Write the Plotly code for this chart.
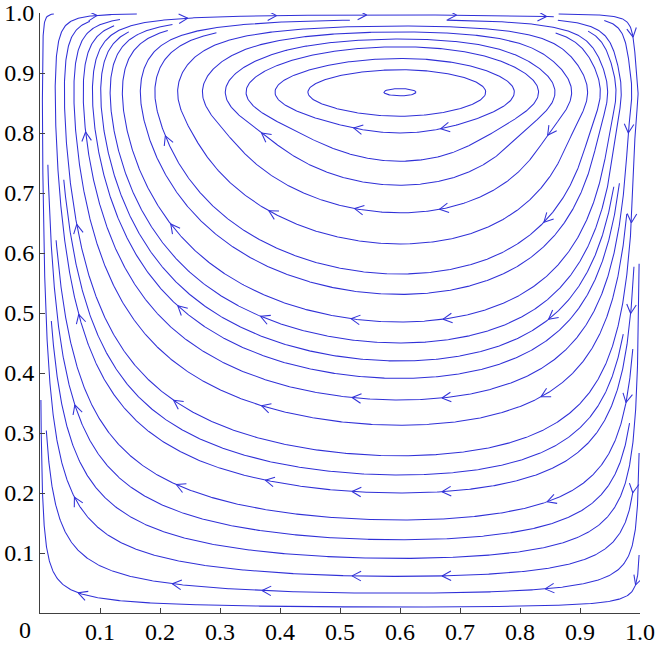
import math
import numpy as np
import plotly.graph_objects as go

# ---------------- values ----------------
# heights at which streamlines cross the vertical line x = 0.6 (below the vortex core)
crossing_x = 0.6
crossing_y = [0.010, 0.033, 0.061, 0.091, 0.122, 0.155, 0.200, 0.230, 0.262,
              0.313, 0.355, 0.391, 0.420, 0.450, 0.485, 0.531, 0.565, 0.615,
              0.667, 0.713, 0.753, 0.800, 0.828, 0.862]
# centre of the primary vortex
vortex_centre = [0.60, 0.868]

x_tick_vals = [0.1, 0.2, 0.3, 0.4, 0.5, 0.6, 0.7, 0.8, 0.9, 1.0]
x_tick_text = ["0.1", "0.2", "0.3", "0.4", "0.5", "0.6", "0.7", "0.8", "0.9", "1.0"]
y_tick_vals = [0.1, 0.2, 0.3, 0.4, 0.5, 0.6, 0.7, 0.8, 0.9, 1.0]
y_tick_text = ["0.1", "0.2", "0.3", "0.4", "0.5", "0.6", "0.7", "0.8", "0.9", "1.0"]
origin_label = "0"

# ---------------- stream-function shape (lid-driven cavity like) ----------------
XC, YC = vortex_centre
A_L = 2.0
A_R = A_L * (1 - XC) / XC
C_B = 2.7
D_T = 1.0
BETA = D_T / (1 - YC) - C_B / YC
A_CORE, WX, WY = 0.22, 0.30, 0.045
LOG_A = math.log(A_CORE)


def phi(x, y):
    """log of the stream function"""
    x = min(max(x, 1e-9), 1 - 1e-9)
    y = min(max(y, 1e-9), 1 - 1e-9)
    s = (A_L * math.log(x / XC) + A_R * math.log((1 - x) / (1 - XC))
         + C_B * math.log(y / YC) + D_T * math.log((1 - y) / (1 - YC))
         + BETA * (y - YC))
    b = LOG_A - ((x - XC) / WX) ** 4 - ((y - YC) / WY) ** 2
    m = max(s, b)
    return m + math.log(math.exp(s - m) + math.exp(b - m))


EPS = 1e-6


def grad(x, y):
    gx = (phi(x + EPS, y) - phi(x - EPS, y)) / (2 * EPS)
    gy = (phi(x, y + EPS) - phi(x, y - EPS)) / (2 * EPS)
    return gx, gy


def direction(x, y):
    gx, gy = grad(x, y)
    u, v = -gy, gx          # clockwise circulation
    n = math.hypot(u, v) + 1e-30
    return u / n, v / n


def project(x, y, level):
    for _ in range(2):
        gx, gy = grad(x, y)
        g2 = gx * gx + gy * gy + 1e-30
        d = phi(x, y) - level
        x -= d * gx / g2
        y -= d * gy / g2
    return x, y


# ---------------- spacing-controlled streamline tracing ----------------
DMIN = 0.0085
CELL = DMIN
cells = {}


def add_point(x, y, lid):
    key = (int(x / CELL), int(y / CELL))
    cells.setdefault(key, []).append((x, y, lid))


def blocked(x, y, lid):
    i, j = int(x / CELL), int(y / CELL)
    for di in (-1, 0, 1):
        for dj in (-1, 0, 1):
            for (px, py, pl) in cells.get((i + di, j + dj), ()):
                if pl != lid and (px - x) ** 2 + (py - y) ** 2 < DMIN * DMIN:
                    return True
    return False


H = 0.002


def trace(x0, y0, level, sgn, lid, maxsteps=4000):
    pts = []
    x, y = x0, y0
    travelled = 0.0
    closed = False
    for _ in range(maxsteps):
        d1 = direction(x, y)
        xm, ym = x + 0.5 * H * sgn * d1[0], y + 0.5 * H * sgn * d1[1]
        d2 = direction(xm, ym)
        x, y = x + H * sgn * d2[0], y + H * sgn * d2[1]
        x, y = project(x, y, level)
        if not (0.0015 < x < 0.9985 and 0.0015 < y < 0.9985):
            break
        if blocked(x, y, lid):
            break
        travelled += H
        if travelled > 0.03 and math.hypot(x - x0, y - y0) < 1.5 * H:
            closed = True
            pts.append((x0, y0))
            break
        pts.append((x, y))
        add_point(x, y, lid)
    return pts, closed


lines = []
for lid, yb in enumerate(crossing_y):
    if blocked(crossing_x, yb, lid):
        continue
    level = phi(crossing_x, yb)
    add_point(crossing_x, yb, lid)
    fwd, closed = trace(crossing_x, yb, level, 1, lid)
    if closed:
        line = [(crossing_x, yb)] + fwd
    else:
        bwd, _ = trace(crossing_x, yb, level, -1, lid)
        line = bwd[::-1] + [(crossing_x, yb)] + fwd
    if len(line) > 15:
        lines.append(np.array(line))

# ---------------- arrows on a coarse lattice ----------------
arrow_cols = [0.07, 0.22, 0.37, 0.52, 0.67, 0.84, 0.985]
arrow_rows = [0.05, 0.20, 0.35, 0.50, 0.65, 0.80]
arrow_nodes = [(cx, cy) for cx in arrow_cols for cy in arrow_rows]
arrow_nodes += [(cx, 1.0) for cx in (0.095, 0.245, 0.395, 0.545, 0.695, 0.845)]
arrow_nodes += [(0.99, 0.96)]
allpts = np.vstack(lines)
AL, ANG = 0.017, math.radians(28)
ax_, ay_ = [], []
for gx0, gy0 in arrow_nodes:
    d = np.hypot(allpts[:, 0] - gx0, allpts[:, 1] - gy0)
    k = int(np.argmin(d))
    if d[k] > 0.05:
        continue
    px, py = allpts[k]
    ux, uy = direction(px, py)
    for a in (ANG, -ANG):
        bx = px - AL * (ux * math.cos(a) - uy * math.sin(a))
        by = py - AL * (ux * math.sin(a) + uy * math.cos(a))
        ax_ += [bx, px, None]
        ay_ += [by, py, None]

# ---------------- figure ----------------
LINE_COLOR = "rgb(48,48,215)"
xs, ys = [], []
for ln in lines:
    xs += list(ln[:, 0]) + [None]
    ys += list(ln[:, 1]) + [None]

fig = go.Figure()
fig.add_trace(go.Scatter(x=xs, y=ys, mode="lines",
                         line=dict(color=LINE_COLOR, width=1.05),
                         hoverinfo="skip", showlegend=False))
fig.add_trace(go.Scatter(x=ax_, y=ay_, mode="lines",
                         line=dict(color=LINE_COLOR, width=1.05),
                         hoverinfo="skip", showlegend=False))

font = dict(family="Liberation Serif", size=24, color="black")
axis_common = dict(range=[0, 1], showgrid=False, zeroline=False, showline=True,
                   linecolor="#404040", linewidth=1, ticks="inside", ticklen=5,
                   tickcolor="#404040", tickfont=font, mirror=False,
                   automargin=False)
fig.update_xaxes(tickvals=x_tick_vals, ticktext=x_tick_text,
                 ticklabelstandoff=-3, **axis_common)
fig.update_yaxes(tickvals=y_tick_vals, ticktext=y_tick_text, **axis_common)

fig.add_annotation(x=-0.025, y=0, xref="paper", yref="paper", text=origin_label,
                   showarrow=False, xanchor="center", yanchor="middle", yshift=-17,
                   font=font)

fig.update_layout(width=656, height=645,
                  margin=dict(l=40, r=16, t=13, b=32),
                  paper_bgcolor="white", plot_bgcolor="white")

fig.write_html("out.html", config={"displayModeBar": False},
               post_script="document.body.style.margin='0';document.body.style.overflow='hidden';")
